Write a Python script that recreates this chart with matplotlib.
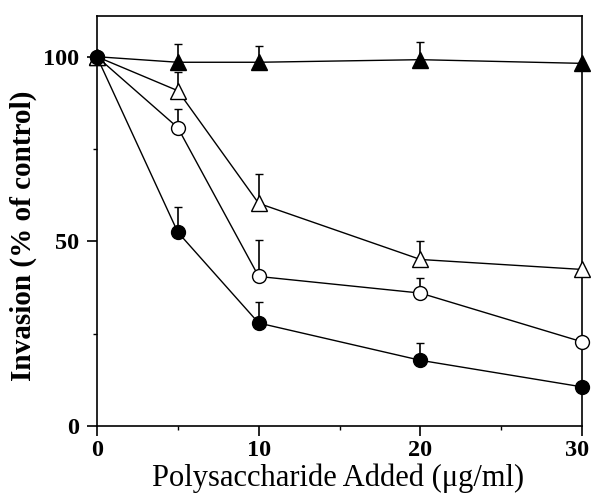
import matplotlib
matplotlib.use("Agg")
import matplotlib.pyplot as plt
import matplotlib.transforms as mtransforms
import numpy as np
from matplotlib.ticker import MultipleLocator

plt.rcParams['font.family'] = ['Liberation Serif', 'DejaVu Serif']

x = [0, 5, 10, 20, 30]
filled_tri = [100, 98.5, 98.5, 99.2, 98.2]
filled_tri_err = [0, 5, 4.5, 4.8, 0]
open_tri = [100, 90.8, 60.3, 45.1, 42.4]
open_tri_err = [0, 5, 8, 5, 0]
open_circ = [100, 80.8, 40.5, 36.0, 22.8]
open_circ_err = [0, 5, 10, 4, 0]
filled_circ = [100, 52.5, 27.9, 17.8, 10.6]
filled_circ_err = [0, 6.7, 5.7, 4.6, 0]

fig = plt.figure(figsize=(5.91, 5.03), dpi=100)
ax = fig.add_axes([0.164, 0.153, 0.821, 0.815])

series = [
    (filled_tri, filled_tri_err, '^', 'black', 11),
    (open_tri, open_tri_err, '^', 'white', 11),
    (open_circ, open_circ_err, 'o', 'white', 10),
    (filled_circ, filled_circ_err, 'o', 'black', 10),
]
for y, e, m, fc, ms in series:
    ax.errorbar(x, y, yerr=[np.zeros(len(e)), e], fmt='-', color='black', lw=1.0,
                marker=m, markerfacecolor=fc, markeredgecolor='black', markersize=ms,
                markeredgewidth=1.0, capsize=3, elinewidth=1.2, capthick=1.2,
                clip_on=False, zorder=3)

ax.set_xlim(0, 30)
ax.set_ylim(0, 111)
ax.set_xticks([0, 10, 20, 30])
ax.set_yticks([0, 50, 100])
ax.xaxis.set_minor_locator(MultipleLocator(5))
ax.yaxis.set_minor_locator(MultipleLocator(25))
ax.tick_params(which='major', direction='out', length=7, width=1.2, labelsize=17.5)
ax.tick_params(axis='x', which='major', pad=3)
ax.tick_params(axis='y', which='major', pad=6)
ax.tick_params(which='minor', direction='out', length=3, width=1.0)
for lab in ax.get_xticklabels() + ax.get_yticklabels():
    lab.set_fontweight('bold')
last = ax.get_xticklabels()[-1]
last.set_transform(last.get_transform() + mtransforms.ScaledTranslation(-5 / 100, 0, fig.dpi_scale_trans))
for s in ax.spines.values():
    s.set_linewidth(1.2)

ax.set_xlabel('Polysaccharide Added (μg/ml)', fontsize=22, fontweight='normal')
ax.set_ylabel('Invasion (% of control)', fontsize=21, fontweight='bold')
ax.xaxis.set_label_coords(0.497, -0.128)
ax.xaxis.label.set_va('center')
ax.yaxis.set_label_coords(-0.151, 0.463)
ax.yaxis.label.set_va('center')
ax.yaxis.label.set_ha('center')

fig.savefig('out.png', dpi=100)
